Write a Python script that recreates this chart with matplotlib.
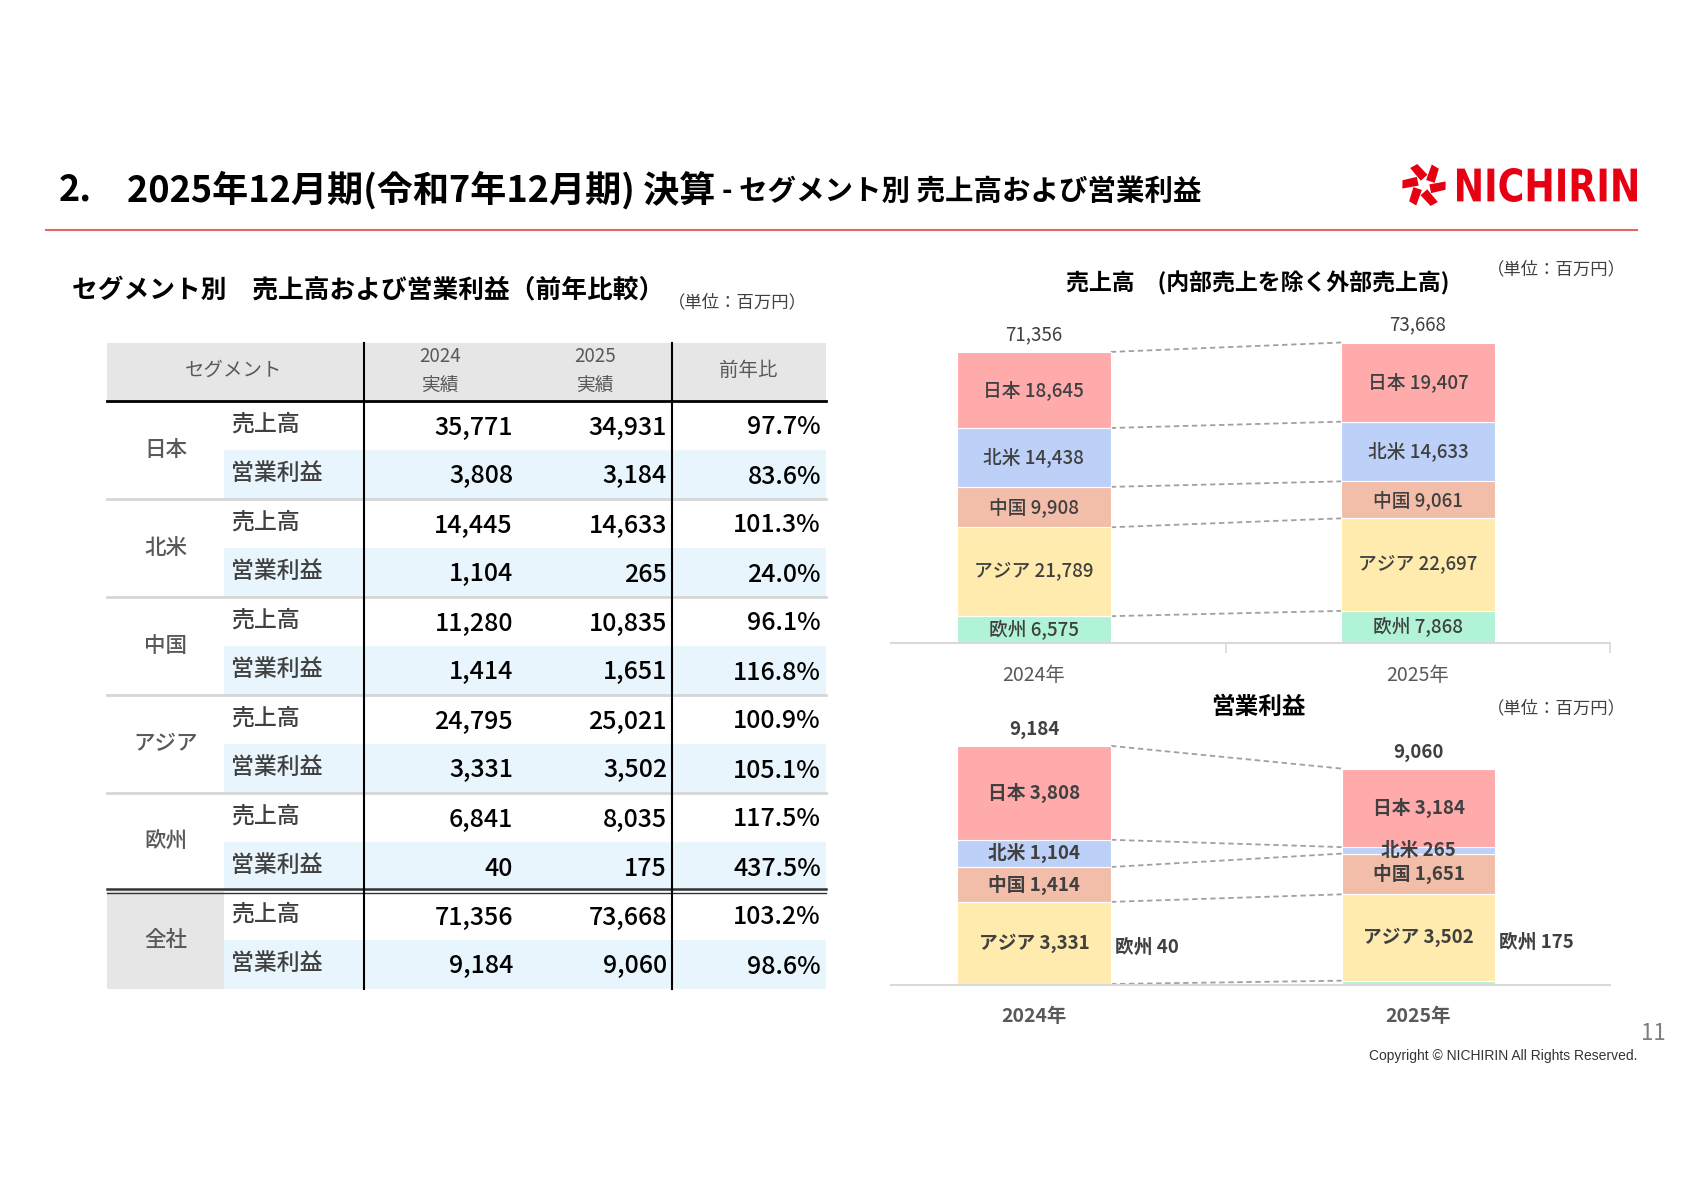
import numpy as np
import matplotlib.pyplot as plt
from matplotlib.patches import Rectangle, Polygon, PathPatch
from matplotlib.textpath import TextPath
from matplotlib.font_manager import FontProperties
from matplotlib.transforms import Affine2D

plt.rcParams['font.family'] = ['Noto Sans CJK JP', 'DejaVu Sans']

W, H = 1683, 1190

# --- table data (百万円) ---
segments = ['日本', '北米', '中国', 'アジア', '欧州']
sales_2024 = [35771, 14445, 11280, 24795, 6841]
sales_2025 = [34931, 14633, 10835, 25021, 8035]
op_2024 = [3808, 1104, 1414, 3331, 40]
op_2025 = [3184, 265, 1651, 3502, 175]
total_sales = [71356, 73668]
total_op = [9184, 9060]
sales_ratio = [97.7, 101.3, 96.1, 100.9, 117.5, 103.2]
op_ratio = [83.6, 24.0, 116.8, 105.1, 437.5, 98.6]

# --- chart data: external sales by segment ---
years = ['2024年', '2025年']
ext_sales_2024 = [18645, 14438, 9908, 21789, 6575]
ext_sales_2025 = [19407, 14633, 9061, 22697, 7868]
seg_colors = ['#FFABAB', '#BDD1F8', '#F2BEA9', '#FFEBAD', '#B1F3D6']

fig = plt.figure(figsize=(W / 100, H / 100), dpi=100)
bg = fig.add_axes([0, 0, 1, 1])
bg.set_xlim(0, W)
bg.set_ylim(H, 0)
bg.axis('off')

# header
bg.text(59, 190, '2.', fontsize=26, weight='bold', va='center')
bg.text(127, 190, '2025年12月期(令和7年12月期) 決算', fontsize=26, weight='bold', va='center')
bg.text(722, 192, '- セグメント別 売上高および営業利益', fontsize=20.5, weight='bold', va='center')
bg.plot([46, 1637], [230, 230], color='#E66464', lw=1.5)

# logo
red = '#E60012'
cx, cy = 1424, 185
blade = np.array([[5, -2], [20, -9], [22, -1], [9, 6]])
for k in range(6):
    a = np.deg2rad(60 * k + 15)
    rot = np.array([[np.cos(a), -np.sin(a)], [np.sin(a), np.cos(a)]])
    pts = blade @ rot.T + [cx, cy]
    bg.add_patch(Polygon(pts, closed=True, color=red, lw=0))
tp = TextPath((0, 0), 'NICHIRIN', size=50, prop=FontProperties(family='DejaVu Sans', weight='bold'))
ext = tp.get_extents()
sx = (1637 - 1457) / ext.width
sy = (202 - 168) / ext.height
tr = Affine2D().translate(-ext.x0, -ext.y0).scale(sx, -sy).translate(1457, 202)
bg.add_patch(PathPatch(tr.transform_path(tp), color=red, lw=0))

# --- table ---
bg.text(72, 290, 'セグメント別　売上高および営業利益（前年比較）', fontsize=18.5, weight='bold', va='center')
bg.text(668, 302, '（単位：百万円）', fontsize=12.5, color='#404040', va='center')

tx0, tx1, lab_x = 107, 826, 224
col_v = [364, 672]
hdr_top, hdr_bot = 343, 401
row_h = 49
gray_txt = '#595959'

bg.add_patch(Rectangle((tx0, hdr_top), tx1 - tx0, hdr_bot - hdr_top, color='#E7E6E6', lw=0))
bg.text(234, 370, 'セグメント', fontsize=14, color=gray_txt, ha='center', va='center')
bg.text(440, 357, '2024', fontsize=13.5, color=gray_txt, ha='center', va='center')
bg.text(440, 385, '実績', fontsize=13.5, color=gray_txt, ha='center', va='center')
bg.text(595, 357, '2025', fontsize=13.5, color=gray_txt, ha='center', va='center')
bg.text(595, 385, '実績', fontsize=13.5, color=gray_txt, ha='center', va='center')
bg.text(748, 370, '前年比', fontsize=14, color=gray_txt, ha='center', va='center')

names = segments + ['全社']
s24 = sales_2024 + [total_sales[0]]
s25 = sales_2025 + [total_sales[1]]
o24 = op_2024 + [total_op[0]]
o25 = op_2025 + [total_op[1]]

for i, name in enumerate(names):
    top = hdr_bot + 2 * row_h * i
    bg.add_patch(Rectangle((lab_x, top + row_h), tx1 - lab_x, row_h, color='#E9F5FD', lw=0))
    if name == '全社':
        bg.add_patch(Rectangle((tx0, top), lab_x - tx0, 2 * row_h, color='#E7E6E6', lw=0))
    bg.text((tx0 + lab_x) / 2, top + row_h, name, fontsize=15.5, weight='medium', color=gray_txt,
            ha='center', va='center')
    for j, (lab, v24, v25, r) in enumerate([('売上高', s24[i], s25[i], sales_ratio[i]),
                                            ('営業利益', o24[i], o25[i], op_ratio[i])]):
        yc = top + row_h * (j + 0.5)
        bg.text(231, yc - 1, lab, fontsize=16.5, weight='medium', color='#404040', va='center')
        bg.text(513, yc + 2, f'{v24:,}', fontsize=18, weight='medium', ha='right', va='center')
        bg.text(667, yc + 2, f'{v25:,}', fontsize=18, weight='medium', ha='right', va='center')
        bg.text(821, yc + 2, f'{r:.1f}%', fontsize=18, weight='medium', ha='right', va='center')
    if i < len(names) - 2:
        bg.plot([tx0, tx1], [top + 2 * row_h] * 2, color='#D6D6D6', lw=2)
    elif i == len(names) - 2:
        yb = top + 2 * row_h
        bg.plot([tx0, tx1], [yb - 2, yb - 2], color='#333333', lw=1.8)
        bg.plot([tx0, tx1], [yb + 2, yb + 2], color='#333333', lw=1.0)

tbl_bot = hdr_bot + 2 * row_h * len(names)
bg.plot([tx0, tx1], [hdr_bot, hdr_bot], color='black', lw=2)
for xv in col_v:
    bg.plot([xv, xv], [hdr_top, tbl_bot], color='black', lw=1.5)

# --- charts ---
def px_axes(x0, x1, ybase, ytop):
    return fig.add_axes([x0 / W, 1 - ybase / H, (x1 - x0) / W, (ybase - ytop) / H])


def stacked(ax, v24, v25, totals, bold, outside_last):
    x = np.arange(2)
    w = 0.4
    data = np.array([v24, v25]).T
    bottoms = np.zeros(2)
    bounds = []
    wt = 'bold' if bold else 'medium'
    for k in reversed(range(len(segments))):
        ax.bar(x, data[k], w, bottom=bottoms, color=seg_colors[k], edgecolor='white', lw=0.8, zorder=2)
        for xi in range(2):
            lbl = f'{segments[k]} {data[k][xi]:,}'
            if outside_last and k == len(segments) - 1:
                ya = bottoms[xi] + data[k][xi] + data[k - 1][xi] * 0.45
                ax.text(xi + w / 2 + 0.01, ya, lbl, fontsize=13.5, weight=wt, color='#404040',
                        ha='left', va='center')
            else:
                ax.text(xi, bottoms[xi] + data[k][xi] / 2, lbl, fontsize=13.5, weight=wt,
                        color='#404040', ha='center', va='center', zorder=3)
        bottoms = bottoms + data[k]
        bounds.append(bottoms.copy())
    for b in bounds:
        ax.plot([w / 2, 1 - w / 2], b, ls=(0, (3, 2)), color='#A0A0A0', lw=1.3, zorder=1)
    for xi in range(2):
        ax.annotate(f'{totals[xi]:,}', (xi, bounds[-1][xi]), xytext=(0, 5), textcoords='offset points',
                    ha='center', va='bottom', fontsize=13.5, weight=wt if bold else 'normal', color='#404040')
    ax.set_xlim(-0.372, 1.498)
    ax.set_xticks(x, years)
    ax.set_yticks([])
    for s in ['top', 'left', 'right']:
        ax.spines[s].set_visible(False)
    ax.spines['bottom'].set_color('#D9D9D9')
    ax.spines['bottom'].set_linewidth(1.5)
    ax.patch.set_alpha(0)


ax1 = px_axes(891, 1610, 643, 313)
stacked(ax1, ext_sales_2024, ext_sales_2025, total_sales, False, False)
ax1.set_ylim(0, 80900)
ax1.tick_params(axis='x', length=0, pad=16, labelsize=14, labelcolor=gray_txt)
ax1.set_xticks([0.5, 1.5], minor=True)
ax1.tick_params(axis='x', which='minor', length=7, color='#D9D9D9', width=1.2)

ax2 = px_axes(891, 1610, 985, 715)
stacked(ax2, op_2024, op_2025, total_op, True, True)
ax2.set_ylim(0, 10950)
ax2.tick_params(axis='x', length=0, pad=16, labelsize=14, labelcolor=gray_txt)
for t in ax2.get_xticklabels():
    t.set_fontweight('bold')

bg.text(1258, 283, '売上高　(内部売上を除く外部売上高)', fontsize=16.5, weight='bold', ha='center', va='center')
bg.text(1556, 269, '（単位：百万円）', fontsize=12.5, color='#404040', ha='center', va='center')
bg.text(1258, 707, '営業利益', fontsize=17, weight='bold', ha='center', va='center')
bg.text(1556, 708, '（単位：百万円）', fontsize=12.5, color='#404040', ha='center', va='center')

# footer
bg.text(1653, 1034, '11', fontsize=16, color='#7F7F7F', ha='center', va='center')
bg.text(1637, 1056, 'Copyright © NICHIRIN All Rights Reserved.', fontsize=10,
        family='Liberation Sans', color='#333333', ha='right', va='center')

fig.savefig('out.png', dpi=100)
